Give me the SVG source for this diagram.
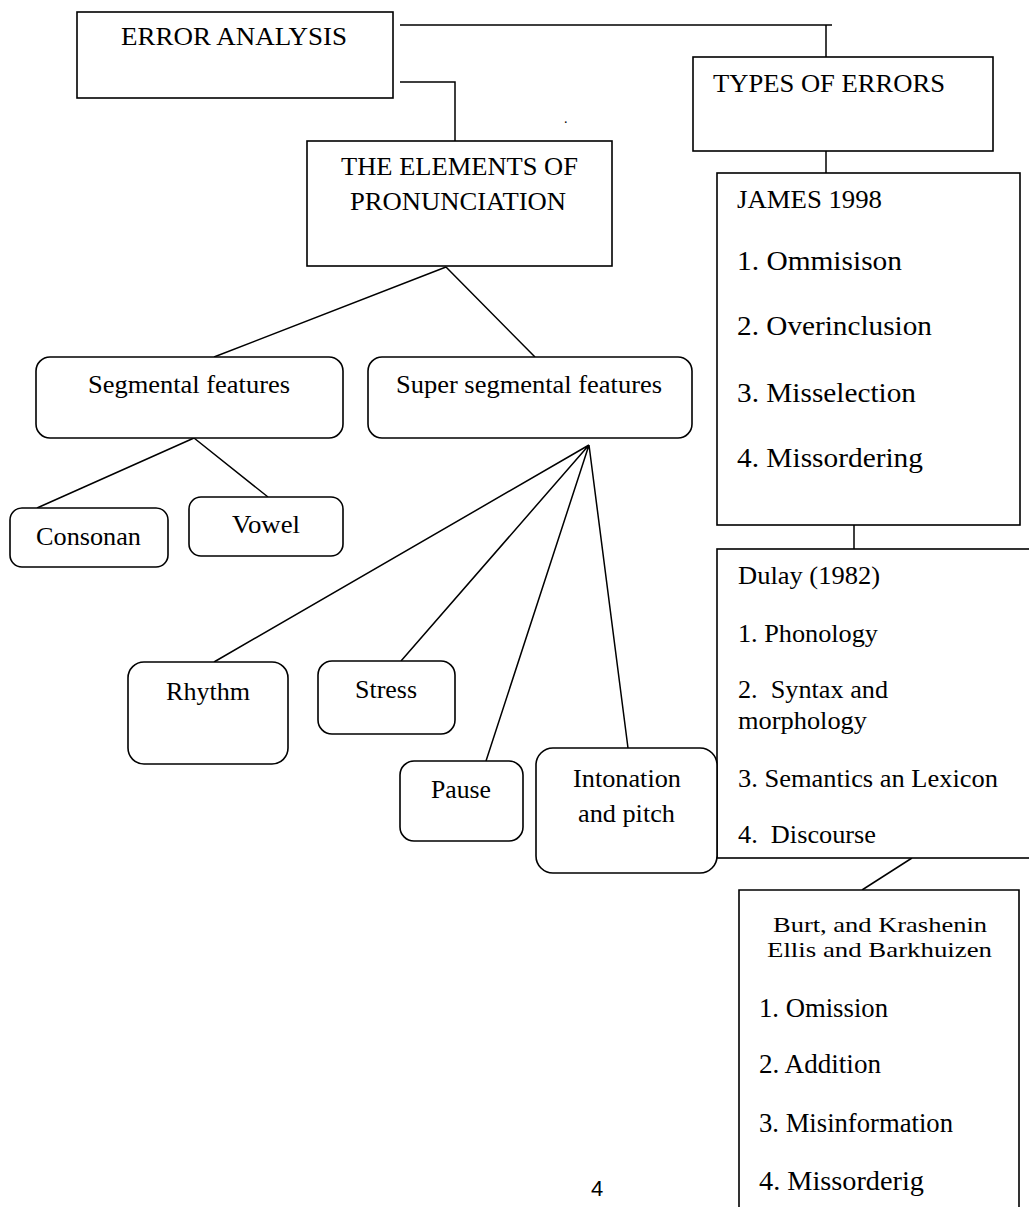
<svg xmlns="http://www.w3.org/2000/svg" width="1029" height="1207" viewBox="0 0 1029 1207">
<style>
.box{fill:#fff;stroke:#000;stroke-width:1.6}
.rbox{fill:#fff;stroke:#000;stroke-width:1.6}
.ln{fill:none;stroke:#000;stroke-width:1.5}
text{font-family:"Liberation Serif","Times New Roman",serif;font-size:25px;fill:#000}
.big{font-size:27px}
.tight{font-size:22px}
.pg{font-family:"Liberation Sans",Arial,sans-serif;font-size:22px}
</style>
<rect width="1029" height="1207" fill="#fff"/>
<g id="connectors">
<path class="ln" d="M400,25 H832 M826,25 V57"/>
<path class="ln" d="M400,82 H455 V141"/>
<path class="ln" d="M826,151 V173"/>
<path class="ln" d="M854,520 V549"/>
<path class="ln" d="M912,858 L862,890"/>
<path class="ln" d="M446,267 L214,357 M446,267 L535,357"/>
<path class="ln" d="M194,438 L37,508 M194,438 L268,497"/>
<path class="ln" d="M589,445 L214,662 M589,445 L401,661 M589,445 L486,761 M589,445 L628,748"/>
</g>
<g id="error-analysis">
<rect class="box" x="77" y="12" width="316" height="86"/>
<text x="121" y="45" textLength="226" lengthAdjust="spacingAndGlyphs">ERROR ANALYSIS</text>
</g>
<g id="types-of-errors">
<rect class="box" x="693" y="57" width="300" height="94"/>
<text x="713" y="92" textLength="232" lengthAdjust="spacingAndGlyphs">TYPES OF ERRORS</text>
</g>
<g id="elements">
<rect class="box" x="307" y="141" width="305" height="125"/>
<text x="341" y="175" textLength="237" lengthAdjust="spacingAndGlyphs">THE ELEMENTS OF</text>
<text x="350" y="210" textLength="216" lengthAdjust="spacingAndGlyphs">PRONUNCIATION</text>
</g>
<g id="stray-dot">
<text x="564" y="123" style="font-size:14px">.</text>
</g>
<g id="james">
<rect class="box" x="717" y="173" width="303" height="352"/>
<text x="737" y="208" textLength="145" lengthAdjust="spacingAndGlyphs">JAMES 1998</text>
<text class="big" x="737" y="270" textLength="165" lengthAdjust="spacingAndGlyphs">1. Ommisison</text>
<text class="big" x="737" y="335" textLength="195" lengthAdjust="spacingAndGlyphs">2. Overinclusion</text>
<text class="big" x="737" y="402" textLength="179" lengthAdjust="spacingAndGlyphs">3. Misselection</text>
<text class="big" x="737" y="467" textLength="186" lengthAdjust="spacingAndGlyphs">4. Missordering</text>
</g>
<g id="dulay">
<rect class="box" x="717" y="549" width="320" height="309"/>
<text x="738" y="584" textLength="142" lengthAdjust="spacingAndGlyphs">Dulay (1982)</text>
<text x="738" y="642" textLength="140" lengthAdjust="spacingAndGlyphs">1. Phonology</text>
<text x="738" y="698" textLength="150" lengthAdjust="spacingAndGlyphs" xml:space="preserve">2.  Syntax and</text>
<text x="738" y="729" textLength="129" lengthAdjust="spacingAndGlyphs">morphology</text>
<text x="738" y="787" textLength="260" lengthAdjust="spacingAndGlyphs">3. Semantics an Lexicon</text>
<text x="738" y="843" textLength="138" lengthAdjust="spacingAndGlyphs" xml:space="preserve">4.  Discourse</text>
</g>
<g id="burt">
<path class="box" d="M739,1210 V890 H1019 V1210"/>
<text class="tight" x="773" y="932" textLength="214" lengthAdjust="spacingAndGlyphs">Burt, and Krashenin</text>
<text class="tight" x="767" y="957" textLength="225" lengthAdjust="spacingAndGlyphs">Ellis and Barkhuizen</text>
<text class="big" x="759" y="1017" textLength="129" lengthAdjust="spacingAndGlyphs">1. Omission</text>
<text class="big" x="759" y="1073" textLength="122" lengthAdjust="spacingAndGlyphs">2. Addition</text>
<text class="big" x="759" y="1132" textLength="194" lengthAdjust="spacingAndGlyphs">3. Misinformation</text>
<text class="big" x="759" y="1190" textLength="165" lengthAdjust="spacingAndGlyphs">4. Missorderig</text>
</g>
<g id="segmental">
<rect class="rbox" x="36" y="357" width="307" height="81" rx="14"/>
<text x="88" y="393" textLength="202" lengthAdjust="spacingAndGlyphs">Segmental features</text>
</g>
<g id="super-segmental">
<rect class="rbox" x="368" y="357" width="324" height="81" rx="14"/>
<text x="396" y="393" textLength="266" lengthAdjust="spacingAndGlyphs">Super segmental features</text>
</g>
<g id="consonan">
<rect class="rbox" x="10" y="508" width="158" height="59" rx="12"/>
<text x="36" y="545" textLength="105" lengthAdjust="spacingAndGlyphs">Consonan</text>
</g>
<g id="vowel">
<rect class="rbox" x="189" y="497" width="154" height="59" rx="12"/>
<text x="232" y="533" textLength="68" lengthAdjust="spacingAndGlyphs">Vowel</text>
</g>
<g id="rhythm">
<rect class="rbox" x="128" y="662" width="160" height="102" rx="16"/>
<text x="166" y="700" textLength="84" lengthAdjust="spacingAndGlyphs">Rhythm</text>
</g>
<g id="stress">
<rect class="rbox" x="318" y="661" width="137" height="73" rx="14"/>
<text x="355" y="698" textLength="62" lengthAdjust="spacingAndGlyphs">Stress</text>
</g>
<g id="pause">
<rect class="rbox" x="400" y="761" width="123" height="80" rx="14"/>
<text x="431" y="798" textLength="60" lengthAdjust="spacingAndGlyphs">Pause</text>
</g>
<g id="intonation">
<rect class="rbox" x="536" y="748" width="181" height="125" rx="17"/>
<text x="573" y="787" textLength="108" lengthAdjust="spacingAndGlyphs">Intonation</text>
<text x="578" y="822" textLength="97" lengthAdjust="spacingAndGlyphs">and pitch</text>
</g>
<g id="page-number">
<text class="pg" x="591" y="1196">4</text>
</g>
</svg>
